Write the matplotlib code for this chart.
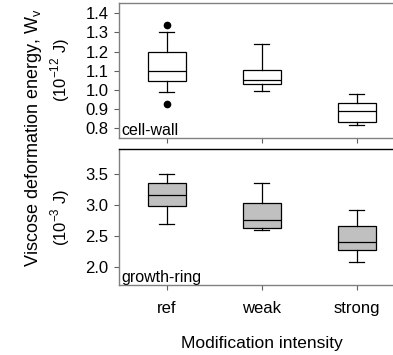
import matplotlib
matplotlib.use("Agg")
import matplotlib.pyplot as plt

plt.rcParams['font.family'] = ['Liberation Sans', 'DejaVu Sans']

categories = ["ref", "weak", "strong"]

# cell-wall (10^-12 J)
cw_q1 = [1.047, 1.033, 0.830]
cw_med = [1.101, 1.054, 0.889]
cw_q3 = [1.196, 1.104, 0.934]
cw_whislo = [0.991, 0.993, 0.816]
cw_whishi = [1.305, 1.242, 0.977]
cw_fliers = [[1.337, 0.928], [], []]

# growth-ring (10^-3 J)
gr_q1 = [2.988, 2.621, 2.265]
gr_med = [3.155, 2.750, 2.395]
gr_q3 = [3.349, 3.036, 2.659]
gr_whislo = [2.691, 2.594, 2.071]
gr_whishi = [3.505, 3.360, 2.922]
gr_fliers = [[], [], []]

top_ticks = [0.8, 0.9, 1.0, 1.1, 1.2, 1.3, 1.4]
bot_ticks = [2.0, 2.5, 3.0, 3.5]

fig = plt.figure(figsize=(3.93, 3.55), dpi=100)
W, H = 393, 355
def rect(x0, y0, x1, y1):
    return [x0 / W, 1 - y1 / H, (x1 - x0) / W, (y1 - y0) / H]

ax1 = fig.add_axes(rect(119, 3, 404, 138))
ax2 = fig.add_axes(rect(119, 149, 404, 285))

def stats(q1, med, q3, lo, hi, fl):
    return [dict(q1=a, med=b, q3=c, whislo=d, whishi=e, fliers=f, label=n)
            for a, b, c, d, e, f, n in zip(q1, med, q3, lo, hi, fl, categories)]

pos = [1, 2, 3]
common = dict(positions=pos, widths=0.4, capwidths=0.165, patch_artist=True,
              whiskerprops=dict(color='black', lw=0.9),
              capprops=dict(color='black', lw=0.9),
              medianprops=dict(color='black', lw=0.9),
              flierprops=dict(marker='o', markerfacecolor='black',
                              markeredgecolor='black', markersize=4.5))
ax1.bxp(stats(cw_q1, cw_med, cw_q3, cw_whislo, cw_whishi, cw_fliers),
        boxprops=dict(facecolor='white', edgecolor='black', lw=0.9), **common)
ax2.bxp(stats(gr_q1, gr_med, gr_q3, gr_whislo, gr_whishi, gr_fliers),
        boxprops=dict(facecolor='#c0c0c0', edgecolor='black', lw=0.9), **common)

ax1.set_ylim(0.749, 1.454)
ax2.set_ylim(1.704, 3.905)
ax1.set_yticks(top_ticks)
ax1.set_yticklabels([f"{t:.1f}" for t in top_ticks])
ax2.set_yticks(bot_ticks)
ax2.set_yticklabels([f"{t:.1f}" for t in bot_ticks])

for ax in (ax1, ax2):
    ax.set_xlim(0.5, 3.5)
    ax.set_xticks(pos)
    for s in ax.spines.values():
        s.set_color('#808080')
        s.set_linewidth(1.0)
    ax.tick_params(axis='both', direction='out', length=3.5, width=0.8,
                   color='#606060', labelsize=12, pad=4)
ax2.spines['top'].set_color('black')
ax1.set_xticklabels([])
ax2.set_xticklabels(categories)
ax2.tick_params(axis='x', pad=8)

ax1.text(0.008, 0.0, "cell-wall", transform=ax1.transAxes, ha='left', va='bottom', fontsize=11.5)
ax2.text(0.008, 0.0, "growth-ring", transform=ax2.transAxes, ha='left', va='bottom', fontsize=11.5)

fig.text(262 / W, 1 - 348 / H, "Modification intensity", ha='center', va='baseline', fontsize=12.5)
fig.text(38 / W, 1 - 138 / H, "Viscose deformation energy, W$_\\mathregular{v}$", rotation=90,
         rotation_mode='anchor', ha='center', va='baseline', fontsize=13)
fig.text(66 / W, 1 - 70 / H, "(10$^\\mathregular{-12}$ J)", rotation=90, rotation_mode='anchor',
         ha='center', va='baseline', fontsize=12)
fig.text(66 / W, 1 - 217 / H, "(10$^\\mathregular{-3}$ J)", rotation=90, rotation_mode='anchor',
         ha='center', va='baseline', fontsize=12)

fig.savefig("out.png", dpi=100)
